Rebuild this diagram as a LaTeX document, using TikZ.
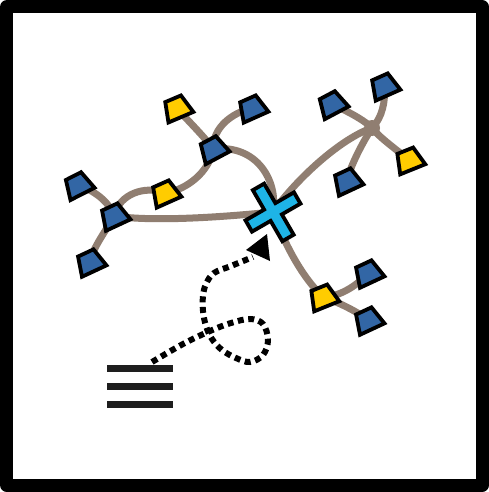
\documentclass[tikz,border=0pt]{standalone}
\begin{document}
\begin{tikzpicture}[x=1pt,y=-1pt,
  conn/.style={line width=7pt,draw=linkbrown,line cap=round},
  trap/.style={line width=3.8pt,draw=black,line join=miter,fill=#1},
  dotpath/.style={line width=6pt,dash pattern=on 6pt off 4.6pt,line cap=butt},
  bar/.style={line width=7pt,draw=barblack}]
\definecolor{linkbrown}{RGB}{144,126,113}
\definecolor{tblue}{RGB}{50,102,165}
\definecolor{tyellow}{RGB}{255,204,0}
\definecolor{xcyan}{RGB}{30,180,230}
\definecolor{barblack}{RGB}{30,30,30}
% frame
\useasboundingbox (0,0) rectangle (489,492);
\fill[black,rounded corners=7pt] (0,0) rectangle (489,492);
\fill[white] (13,13) rectangle (476,479);
% coordinates
\coordinate (y1) at (177,108);
\coordinate (b1) at (252,108);
\coordinate (b2) at (213,149);
\coordinate (y2) at (165,193);
\coordinate (b3) at (78,185);
\coordinate (b4) at (114,216);
\coordinate (b5) at (90,262);
\coordinate (X) at (273,212);
\coordinate (b6) at (332,104);
\coordinate (b7) at (384,86);
\coordinate (y3) at (409,160);
\coordinate (b8) at (347,181);
\coordinate (J) at (372,128);
\coordinate (y4) at (323,297);
\coordinate (b9) at (368,273);
\coordinate (b10) at (368,320);
% connectors
\draw[conn] (b4) .. controls +(40,6) and +(-50,5) .. (X);
\draw[conn] (b4) .. controls +(-5,-15) and +(15,5) .. (b3);
\draw[conn] (b4) .. controls +(-8,15) and +(3,-15) .. (b5);
\draw[conn] (b4) .. controls +(5,-22) and +(-20,-8) .. (y2);
\draw[conn] (y2) .. controls +(22,-3) and +(-3,22) .. (b2);
\draw[conn] (b2) .. controls +(-8,-12) and +(8,10) .. (y1);
\draw[conn] (b2) .. controls +(0,-22) and +(-20,5) .. (b1);
\draw[conn] (b2) .. controls +(45,-5) and +(5,-30) .. (X);
\draw[conn] (X) .. controls +(10,28) and +(-23,-22) .. (y4);
\draw[conn] (y4) .. controls +(15,5) and +(-10,-8) .. (b10);
\draw[conn] (y4) .. controls +(18,0) and +(-8,10) .. (b9);
\draw[conn] (X) .. controls +(25,-35) and +(-30,10) .. (J);
\draw[conn] (J) .. controls +(-10,-10) and +(10,5) .. (b6);
\draw[conn] (J) .. controls +(10,-10) and +(2,15) .. (b7);
\draw[conn] (J) .. controls +(8,10) and +(-12,-10) .. (y3);
\draw[conn] (J) .. controls +(-8,12) and +(3,-15) .. (b8);
\fill[linkbrown] (J) circle (8pt);
% trapezoids
\foreach \p/\c/\a in {y1/tyellow/23,b1/tblue/24,b2/tblue/28,y2/tyellow/24,b3/tblue/27,b4/tblue/25,b5/tblue/25,b6/tblue/28,b7/tblue/24,y3/tyellow/22,b8/tblue/25,y4/tyellow/22,b9/tblue/25,b10/tblue/25}{
  \draw[trap=\c,shift={(\p)},rotate=\a] (-13.5,10) -- (13.5,10) -- (8.5,-10) -- (-8.5,-10) -- cycle;
}
% cross
\draw[line width=3.8pt,fill=xcyan,line join=miter,shift={(X)},rotate=30]
  (6.5,6.5) -- (28,6.5) -- (28,-6.5) -- (6.5,-6.5) -- (6.5,-29) -- (-6.5,-29) -- (-6.5,-6.5)
  -- (-28,-6.5) -- (-28,6.5) -- (-6.5,6.5) -- (-6.5,30) -- (6.5,30) -- cycle;
% menu
\coordinate (menu) at (140,386);
\draw[bar] (107,368) -- (173,368);
\draw[bar] (107,386) -- (173,386);
\draw[bar] (107,404) -- (173,404);
% dotted path
\coordinate (start) at (152,362);
\coordinate (tipbase) at (253,257);
\draw[dotpath] plot[smooth,tension=0.6] coordinates {(start) (183,344) (210,331) (231,323) (250,319) (263,324) (268,340) (263,355) (250,362) (236,358) (222,350) (212,339) (206,326) (203,311) (203,296) (206,284) (214,273) (231,266) (tipbase)};
\fill[black] (246,250) -- (267,234) -- (270,261) -- cycle;
\end{tikzpicture}
\end{document}
